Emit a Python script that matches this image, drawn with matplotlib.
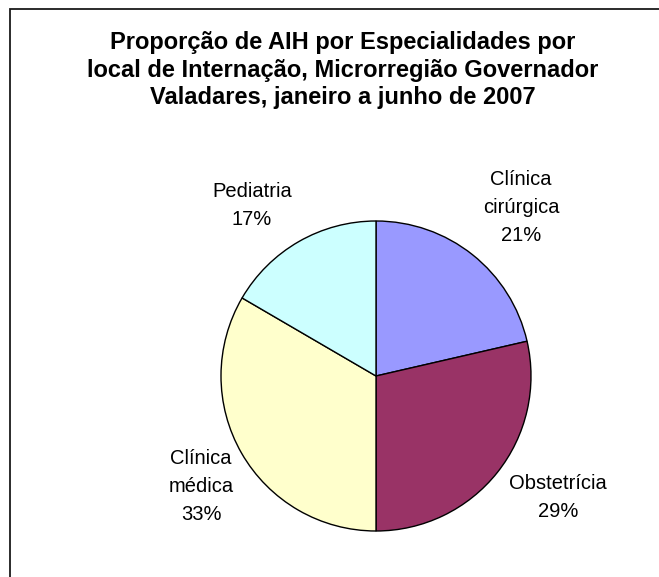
import matplotlib
matplotlib.use("Agg")
import matplotlib.pyplot as plt
from matplotlib.patches import Rectangle

# ---- data ----
categories = ["Clínica\ncirúrgica", "Obstetrícia", "Clínica\nmédica", "Pediatria"]
values = [21.4, 28.6, 33.4, 16.6]
colors = ["#9999FF", "#993366", "#FFFFCC", "#CCFFFF"]
title = ("Proporção de AIH por Especialidades por\n"
         "local de Internação, Microrregião Governador\n"
         "Valadares, janeiro a junho de 2007")

# label positions (data coords of pie axes, radius = 1)
label_pos = [(0.935, 1.09), (1.174, -0.787), (-1.129, -0.716), (-0.80, 1.103)]

plt.rcParams['font.family'] = ['Liberation Sans', 'DejaVu Sans']

W, H = 659, 577
fig = plt.figure(figsize=(W / 100, H / 100), dpi=100)

# frame (left and top visible, rest clipped)
fig.patches.append(Rectangle((10 / W, -0.1), 1.2, (H - 9) / H + 0.1,
                             transform=fig.transFigure, fill=False,
                             edgecolor="#1a1a1a", linewidth=1.3))

cx, cy, r = 376, 376, 155
ax = fig.add_axes([(cx - r) / W, (H - cy - r) / H, 2 * r / W, 2 * r / H])
wedges, _ = ax.pie(values, colors=colors, startangle=90, counterclock=False,
                   radius=1, wedgeprops=dict(edgecolor="black", linewidth=1.0))
ax.set_xlim(-1, 1)
ax.set_ylim(-1, 1)
ax.set_aspect("equal")
ax.axis("off")

for name, v, (x, y) in zip(categories, values, label_pos):
    ax.text(x, y, f"{name}\n{v:.0f}%", ha="center", va="center",
            fontsize=14.5, linespacing=1.6, color="black", clip_on=False)

fig.text(343 / W, 1 - 70 / H, title, ha="center", va="center",
         fontsize=17, fontweight="bold", linespacing=1.25)

fig.savefig("out.png", dpi=100, facecolor="white")
